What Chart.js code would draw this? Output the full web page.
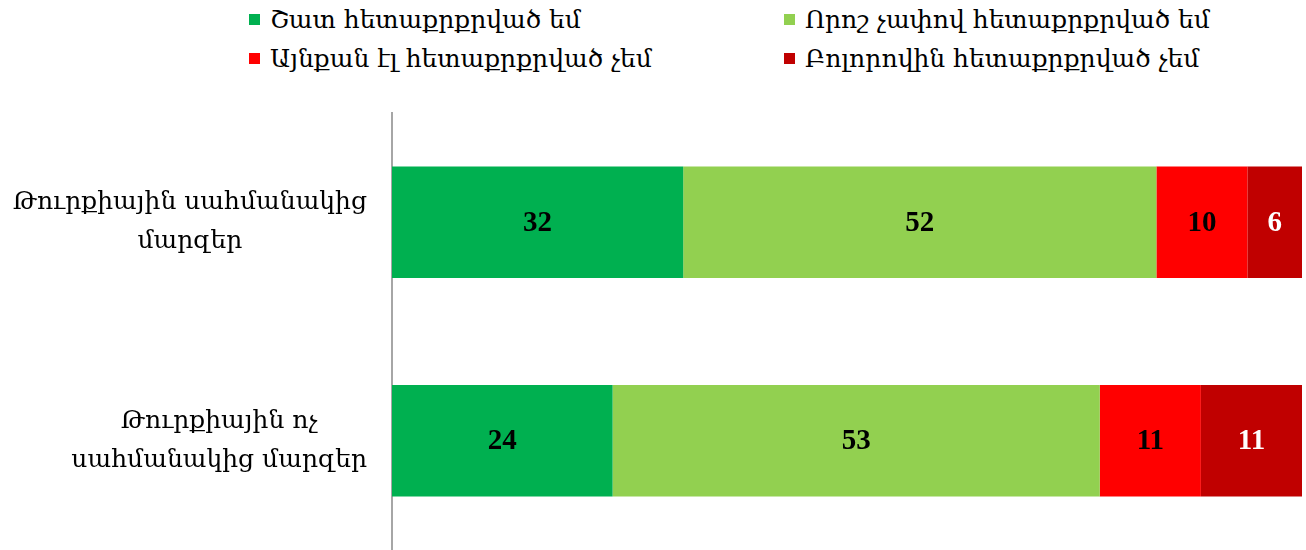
<!DOCTYPE html>
<html><head><meta charset="utf-8">
<script src="https://cdn.jsdelivr.net/npm/chart.js@4/dist/chart.umd.min.js"></script>
<style>
html,body{margin:0;padding:0;background:#fff;}
#wrap{position:relative;width:1306px;height:550px;}
#legend{position:absolute;left:0;top:0;width:1306px;height:80px;font-family:"DejaVu Serif",serif;font-size:25px;color:#000;}
.li{position:absolute;display:flex;align-items:center;white-space:nowrap;}
.sw{width:11px;height:11px;margin-right:10px;}
canvas{position:absolute;left:0;top:0;}
</style></head>
<body><div id="wrap"><div id="legend"></div><canvas id="c" width="1306" height="550"></canvas></div>
<script>
const categories = [["Թուրքիային սահմանակից","մարզեր"],["Թուրքիային ոչ","սահմանակից մարզեր"]];
const seriesNames = ["Շատ հետաքրքրված եմ","Որոշ չափով հետաքրքրված եմ","Այնքան էլ հետաքրքրված չեմ","Բոլորովին հետաքրքրված չեմ"];
const veryInterested = [32,24];
const somewhatInterested = [52,53];
const notVery = [10,11];
const notAtAll = [6,11];
const colors = ["#00B050","#92D050","#FF0000","#C00000"];
const labelColors = ["#000","#000","#000","#fff"];

const raw = [veryInterested, somewhatInterested, notVery, notAtAll];
const totals = categories.map((_,i)=>raw.reduce((s,a)=>s+a[i],0));
const datasets = raw.map((arr,k)=>({
  label: seriesNames[k],
  data: arr.map((v,i)=>v/totals[i]*100),
  rawValues: arr,
  backgroundColor: colors[k],
  borderWidth: 0,
  categoryPercentage: 0.51,
  barPercentage: 1
}));

// legend
const legendPos = [[249,19],[784,19],[249,58],[784,58]];
const leg = document.getElementById('legend');
seriesNames.forEach((n,k)=>{
  const d=document.createElement('div'); d.className='li';
  d.style.left=legendPos[k][0]+'px'; d.style.top=(legendPos[k][1]-15)+'px'; d.style.height='30px';
  d.innerHTML='<span class="sw" style="background:'+colors[k]+'"></span><span>'+n+'</span>';
  leg.appendChild(d);
});

const FONT = '"DejaVu Serif",serif';
const plug = {
  id:'custom',
  afterDatasetsDraw(chart){
    const ctx=chart.ctx;
    ctx.save();
    ctx.font='bold 29px "Liberation Serif",serif';
    ctx.textAlign='center'; ctx.textBaseline='middle';
    chart.data.datasets.forEach((ds,k)=>{
      chart.getDatasetMeta(k).data.forEach((el,i)=>{
        const p=el.getProps(['x','y','base'],true);
        ctx.fillStyle=labelColors[k];
        ctx.fillText(String(ds.rawValues[i]),(p.x+p.base)/2,p.y+1);
      });
    });
    // category labels: block right-aligned, lines centered
    const ys=chart.scales.y;
    ctx.font='25px '+FONT;
    ctx.fillStyle='#000';
    const right=367, lh=39;
    categories.forEach((lines,i)=>{
      const w=Math.max(...lines.map(l=>ctx.measureText(l).width));
      const cx=right-w/2;
      const cy=ys.getPixelForValue(i);
      lines.forEach((l,j)=>{
        ctx.fillText(l,cx,cy+(j-(lines.length-1)/2)*lh);
      });
    });
    ctx.restore();
  }
};

new Chart(document.getElementById('c'),{
  type:'bar',
  data:{labels:categories.map(c=>c.join(' ')),datasets},
  options:{
    indexAxis:'y',
    responsive:false,
    animation:false,
    layout:{padding:{top:113,right:4,left:0,bottom:0}},
    plugins:{legend:{display:false},tooltip:{enabled:false}},
    scales:{
      x:{stacked:true,min:0,max:100,display:false},
      y:{stacked:true,
         grid:{display:false,drawTicks:false},
         border:{display:true,color:'#a6a6a6',width:2},
         ticks:{display:false},
         afterFit(s){s.width=392;}
      }
    }
  },
  plugins:[plug]
});
</script></body></html>
